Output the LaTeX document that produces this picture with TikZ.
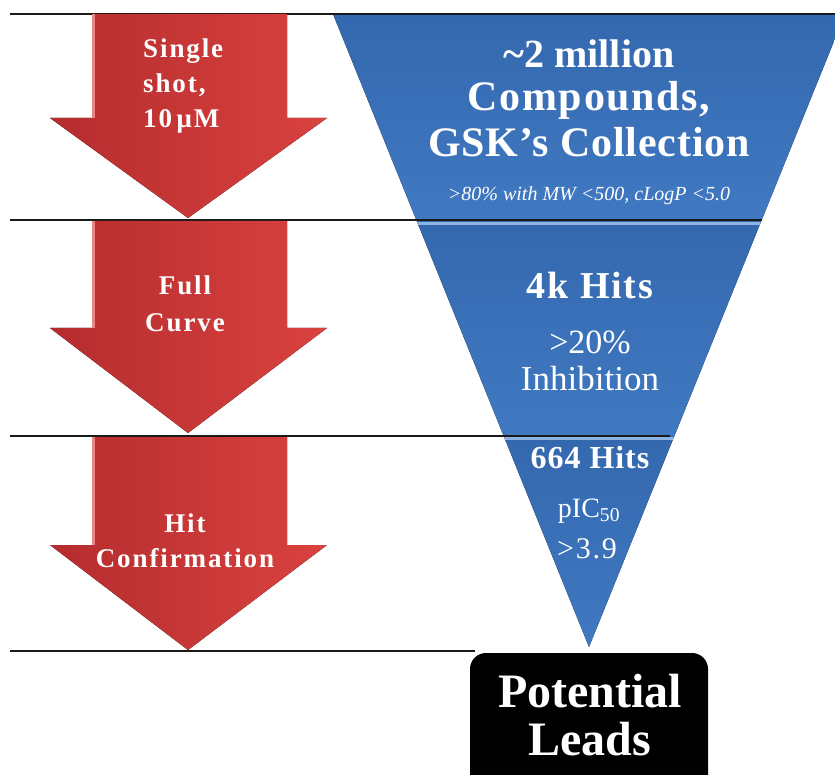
\documentclass[tikz,border=0pt]{standalone}
\usepackage{fontspec}
\setmainfont{Liberation Serif}
\definecolor{redL}{HTML}{B52C2E}
\definecolor{redR}{HTML}{D9423F}
\definecolor{redHL}{HTML}{E98584}
\definecolor{blueA}{HTML}{3468AE}
\definecolor{blueB}{HTML}{4079C2}
\definecolor{blueHL}{HTML}{8DB3E2}
\definecolor{lineC}{HTML}{1A1A1A}
\tikzset{
  redarrow/.style={shading=axis, left color=redL, right color=redR, shading angle=90},
  band/.style={top color=blueA, bottom color=blueB},
  hl/.style={draw=blueHL, line width=2.5pt},
  rule/.style={draw=lineC, line width=2pt},
  wt/.style={text=white, inner sep=0pt, font=\bfseries},
  lefttxt/.style={wt, font=\fontsize{27}{30}\selectfont\bfseries\addfontfeature{LetterSpace=7}},
}
\newcommand{\redarr}[3]{% top y, shaft bottom y, tip y
  \fill[redarrow] (92,#1) -- (287,#1) -- (287,#2) -- (327,#2) -- (188,#3) -- (50,#2) -- (92,#2) -- cycle;
  \draw[redHL, line width=2.5pt] (93.5,#1) -- (93.5,#2);
}
\begin{document}
\begin{tikzpicture}[x=1pt,y=-1pt]
\useasboundingbox (0,0) rectangle (835,775);
\fill[white] (0,0) rectangle (835,775);
% funnel
\begin{scope}
  \clip (333,14) -- (845,14) -- (589,647) -- cycle;
  \fill[band] (300,14) rectangle (850,220);
  \fill[band] (300,220) rectangle (850,436);
  \fill[band] (300,436) rectangle (850,650);
  \draw[hl] (300,223.5) -- (850,223.5);
  \draw[hl] (300,438.5) -- (850,438.5);
\end{scope}
% rules
\draw[rule] (10,14) -- (835,14);
\draw[rule] (10,220) -- (762,220);
\draw[rule] (10,436) -- (670,436);
\draw[rule] (10,651) -- (475,651);
% red arrows
\redarr{14}{118}{218}
\redarr{221}{328}{433}
\redarr{437}{545}{650}
% left labels
\node[lefttxt, anchor=base west] (s1) at (143,58) {Single};
\node[lefttxt, anchor=base west] (s2) at (143,93) {shot,};
\node[lefttxt, anchor=base west] (s3) at (143,128) {10\,μM};
\node[lefttxt, anchor=base] (f1) at (185,295) {Full};
\node[lefttxt, anchor=base] (f2) at (185,332) {Curve};
\node[lefttxt, anchor=base] (h1) at (185,532) {Hit};
\node[lefttxt, anchor=base] (h2) at (185,567) {Confirmation};
% funnel texts
\node[wt, anchor=base, font=\fontsize{40}{44}\selectfont\bfseries] (t1) at (589,68) {\textasciitilde 2 million};
\node[wt, anchor=base, font=\fontsize{42}{46}\selectfont\bfseries\addfontfeature{LetterSpace=4}] (t2) at (589,111) {Compounds,};
\node[wt, anchor=base, font=\fontsize{42}{46}\selectfont\bfseries\addfontfeature{LetterSpace=2}] (t3) at (589,157) {GSK’s Collection};
\node[wt, anchor=base, font=\fontsize{20}{22}\selectfont\itshape] (t4) at (589,201) {>80\% with MW <500, cLogP <5.0};
\node[wt, anchor=base, font=\fontsize{38}{40}\selectfont\bfseries\addfontfeature{LetterSpace=5}] (k1) at (590,299) {4k Hits};
\node[wt, anchor=base, font=\fontsize{34}{38}\selectfont] (k2) at (590,354) {>20\%};
\node[wt, anchor=base, font=\fontsize{35}{38}\selectfont] (k3) at (590,390) {Inhibition};
\node[wt, anchor=base, font=\fontsize{32}{34}\selectfont\bfseries\addfontfeature{LetterSpace=3}] (p1) at (590,468) {664 Hits};
\node[wt, anchor=base, font=\fontsize{28}{30}\selectfont] (p2) at (589,517) {pIC\textsubscript{50}};
\node[wt, anchor=base, font=\fontsize{30}{32}\selectfont\addfontfeature{LetterSpace=6}] (p3) at (587,558) {>3.9};
% potential leads box
\fill[black, rounded corners=16pt] (470,653) rectangle (708,800);
\node[wt, anchor=base, font=\fontsize{48}{50}\selectfont\bfseries] (l1) at (590,707) {Potential};
\node[wt, anchor=base, font=\fontsize{48}{50}\selectfont\bfseries] (l2) at (590,755) {Leads};
\end{tikzpicture}
\end{document}
